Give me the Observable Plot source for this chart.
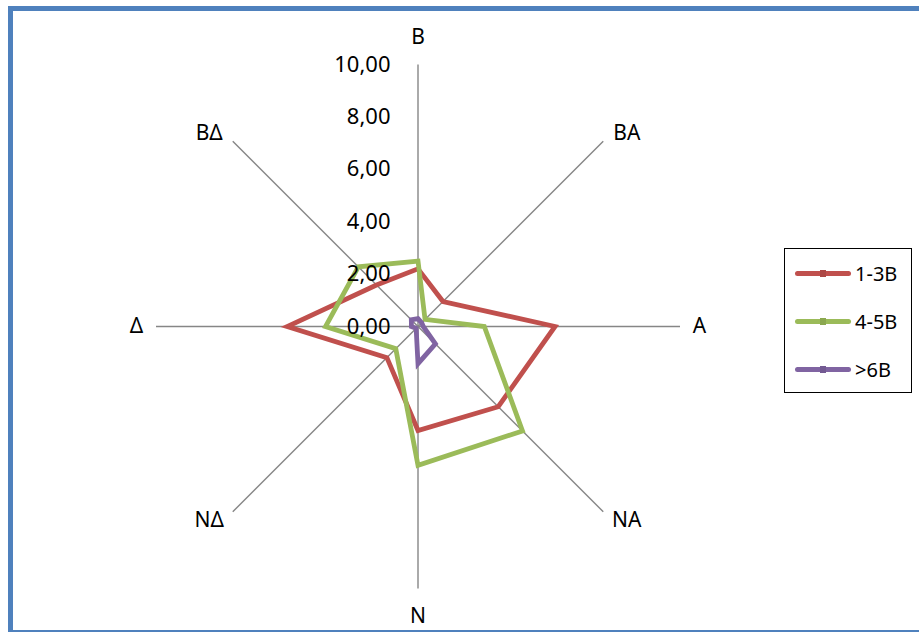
<!DOCTYPE html>
<html>
<head>
<meta charset="utf-8">
<script src="https://cdn.jsdelivr.net/npm/d3@7"></script>
<script src="https://cdn.jsdelivr.net/npm/@observablehq/plot@0.6"></script>
<style>
  html, body { margin: 0; padding: 0; background: #fff; }
  body { width: 919px; height: 632px; position: relative; overflow: hidden; font-family: "Noto Sans", sans-serif; }
  #chart { position: absolute; left: 0; top: 0; }
  #frame { position: absolute; left: 8px; top: 6px; width: 1000px; height: 619px; border-left: 5px solid #4F81BD; border-top: 5px solid #4F81BD; border-bottom: 5px solid #4F81BD; pointer-events: none; }
  #legend { position: absolute; left: 784px; top: 248px; width: 128px; height: 145px; border: 1.5px solid #000; background: #fff; box-sizing: border-box; }
  .row { position: absolute; left: 10px; height: 24px; display: flex; align-items: center; font-size: 20px; color: #000; }
  .sw { width: 56px; height: 5px; border-radius: 3px; margin-right: 4px; position: relative; }
  .sw i { position: absolute; left: 25px; top: -1px; width: 6px; height: 7px; }
</style>
</head>
<body>
<div id="chart"></div>
<div id="legend"></div>
<div id="frame"></div>
<script>
// Directions (clockwise from top)
const directions = ["Β", "ΒΑ", "Α", "ΝΑ", "Ν", "ΝΔ", "Δ", "ΒΔ"];
// Series
const seriesNames = ["1-3Β", "4-5Β", ">6Β"];
const seriesColors = ["#C0504D", "#9BBB59", "#8064A2"];
const values1to3 = [2.20, 1.35, 5.23, 4.33, 3.97, 1.68, 4.99, 2.24];
const values4to5 = [2.50, 0.38, 2.53, 5.64, 5.30, 1.20, 3.53, 3.22];
const values6plus = [0.30, 0.20, 0.20, 0.94, 1.42, 0.10, 0.25, 0.36];
// Radial axis ticks
const ticks = [0, 2, 4, 6, 8, 10];
const tickLabels = ["0,00", "2,00", "4,00", "6,00", "8,00", "10,00"];

const allValues = [values1to3, values4to5, values6plus];
const rMax = d3.max(ticks);
const angle = (i) => (i * 2 * Math.PI) / directions.length;

const rows = [];
seriesNames.forEach((s, k) => {
  directions.forEach((d, i) => rows.push({series: s, dir: d, i, value: allValues[k][i]}));
});
const spokes = directions.map((d, i) => ({dir: d, i}));
const tickData = ticks.map((t, j) => ({t, label: tickLabels[j]}));

// pixel geometry of the polar frame
const W = 919, H = 632, cx = 417.5, cy = 326, R = 262;
const k = R / rMax;

// label offset (pixels) beyond the end of each spoke
function labelOffset(i) {
  const s = Math.sin(angle(i)), c = Math.cos(angle(i));
  const ox = Math.abs(s) < 0.01 ? 0 : Math.sign(s) * (Math.abs(c) < 0.01 ? 19.5 : 23.5);
  const oy = Math.abs(c) < 0.01 ? 0 : -Math.sign(c) * (Math.abs(s) < 0.01 ? 27.5 : 8.3);
  return [ox, oy];
}

const chart = Plot.plot({
  width: W,
  height: H,
  margin: 0,
  x: {domain: [-cx / k, (W - cx) / k], range: [0, W], axis: null},
  y: {domain: [cy / k, -(H - cy) / k], range: [0, H], axis: null},
  color: {domain: seriesNames, range: seriesColors},
  style: {fontFamily: "Noto Sans, sans-serif", background: "transparent"},
  marks: [
    Plot.link(spokes, {
      x1: 0, y1: 0,
      x2: (d) => rMax * Math.sin(angle(d.i)),
      y2: (d) => rMax * Math.cos(angle(d.i)),
      stroke: "#868686", strokeWidth: 1.4
    }),
    Plot.line(rows, {
      x: (d) => d.value * Math.sin(angle(d.i)),
      y: (d) => d.value * Math.cos(angle(d.i)),
      z: "series", stroke: "series", strokeWidth: 4.8,
      curve: "linear-closed", strokeLinejoin: "miter", strokeMiterlimit: 3
    }),
    Plot.text(tickData, {
      x: 0, y: "t", text: "label", textAnchor: "end", dx: -27.5,
      fontSize: 22, fill: "#000"
    }),
    Plot.text(spokes, {
      x: (d) => rMax * Math.sin(angle(d.i)) + labelOffset(d.i)[0] / k,
      y: (d) => rMax * Math.cos(angle(d.i)) - labelOffset(d.i)[1] / k,
      text: "dir",
      fontSize: 21, fill: "#000"
    })
  ]
});
document.getElementById("chart").appendChild(chart);

// Legend (HTML overlay inside chart area)
const legend = document.getElementById("legend");
const rowTops = [12, 60, 108];
seriesNames.forEach((s, j) => {
  const r = document.createElement("div");
  r.className = "row";
  r.style.top = rowTops[j] + "px";
  const sw = document.createElement("span");
  sw.className = "sw";
  sw.style.background = seriesColors[j];
  const mk = document.createElement("i");
  mk.style.background = d3.color(seriesColors[j]).darker(0.3);
  sw.appendChild(mk);
  r.appendChild(sw);
  r.appendChild(document.createTextNode(s));
  legend.appendChild(r);
});
</script>
</body>
</html>
